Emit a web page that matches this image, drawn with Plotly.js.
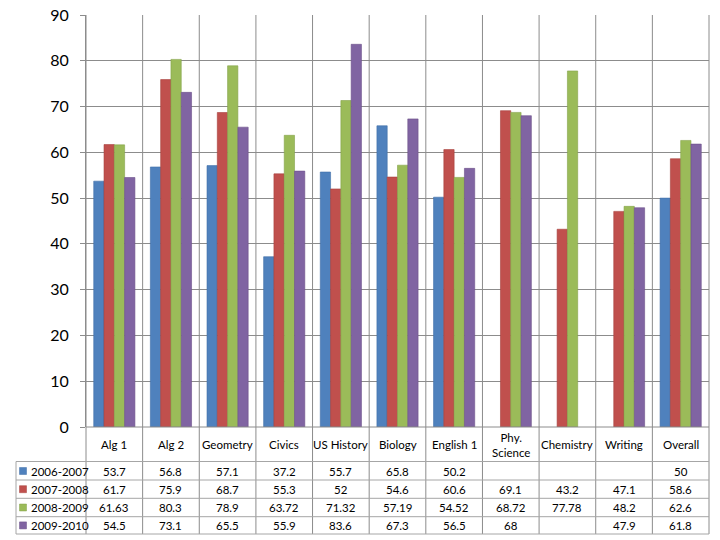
<!DOCTYPE html>
<html>
<head>
<meta charset="utf-8">
<script src="https://cdn.plot.ly/plotly-3.0.1.min.js"></script>
<style>html,body{margin:0;padding:0;background:#fff;}#chart{width:720px;height:540px;}</style>
</head>
<body>
<div id="chart"></div>
<script>
const categories = ["Alg 1", "Alg 2", "Geometry", "Civics", "US History", "Biology", "English 1", "Phy.<br>Science", "Chemistry", "Writing", "Overall"];
const seriesNames = ["2006-2007", "2007-2008", "2008-2009", "2009-2010"];
const s2006 = [53.7, 56.8, 57.1, 37.2, 55.7, 65.8, 50.2, null, null, null, 50];
const s2007 = [61.7, 75.9, 68.7, 55.3, 52, 54.6, 60.6, 69.1, 43.2, 47.1, 58.6];
const s2008 = [61.63, 80.3, 78.9, 63.72, 71.32, 57.19, 54.52, 68.72, 77.78, 48.2, 62.6];
const s2009 = [54.5, 73.1, 65.5, 55.9, 83.6, 67.3, 56.5, 68, null, 47.9, 61.8];
const yTicks = [0, 10, 20, 30, 40, 50, 60, 70, 80, 90];
const colors = ["#4F81BD", "#C0504D", "#9BBB59", "#8064A2"];
const lineColors = ["#3f6fa8", "#a6403d", "#84a34a", "#6b5189"];

const allSeries = [s2006, s2007, s2008, s2009];
const W = 720, H = 540;
const L = 86, R = 709, T = 15, B = 427;
const ph = B - T, pw = R - L;
const py = p => (B - p) / ph;            // pixel y -> paper y
const px = p => (p - L) / pw;            // pixel x -> paper x

const traces = allSeries.map((s, i) => ({
  type: "bar",
  name: seriesNames[i],
  x: categories,
  y: s,
  marker: {color: colors[i], line: {color: lineColors[i], width: 0.6}},
  hoverinfo: "x+y"
}));

const shapes = [];
const annotations = [];
const n = categories.length;
const gridCol = "#8c8c8c";
const tabCol = "#a6a6a6";
const rowLines = [B, 461.5, 480, 498.3, 516.7, 534];

// vertical lines: category boundaries through plot and table
for (let i = 0; i <= n; i++) {
  const xp = i / n;
  shapes.push({type: "line", xref: "paper", yref: "paper", x0: xp, x1: xp, y0: py(534), y1: 1,
    line: {color: gridCol, width: 1}});
}
// left border of row labels column
shapes.push({type: "line", xref: "paper", yref: "paper", x0: px(16), x1: px(16), y0: py(534), y1: py(461.5),
  line: {color: tabCol, width: 1}});
// horizontal table lines
rowLines.forEach((r, k) => {
  shapes.push({type: "line", xref: "paper", yref: "paper", x0: k === 0 ? 0 : px(16), x1: 1, y0: py(r), y1: py(r),
    line: {color: k === 0 ? gridCol : tabCol, width: 1}});
});

const font = {family: "Lato, 'Open Sans', sans-serif", size: 11.5, color: "#000"};
// header row
categories.forEach((c, i) => {
  annotations.push({xref: "paper", yref: "paper", x: (i + 0.5) / n, y: py(444.5), text: c, showarrow: false,
    font: font, xanchor: "center", yanchor: "middle"});
});
// data rows
const rowCenters = [471, 489.2, 507.5, 525.4];
allSeries.forEach((s, r) => {
  // legend key square
  shapes.push({type: "rect", xref: "paper", yref: "paper", x0: px(19.5), x1: px(26.5),
    y0: py(rowCenters[r] + 3.5), y1: py(rowCenters[r] - 3.5),
    fillcolor: colors[r], line: {color: lineColors[r], width: 0.5}});
  annotations.push({xref: "paper", yref: "paper", x: px(29), y: py(rowCenters[r]), text: seriesNames[r],
    showarrow: false, font: font, xanchor: "left", yanchor: "middle"});
  s.forEach((v, i) => {
    if (v === null) return;
    annotations.push({xref: "paper", yref: "paper", x: (i + 0.5) / n, y: py(rowCenters[r]), text: String(v),
      showarrow: false, font: font, xanchor: "center", yanchor: "middle"});
  });
});

const layout = {
  width: W, height: H,
  margin: {l: L, r: W - R, t: T, b: H - B, pad: 0},
  paper_bgcolor: "#fff", plot_bgcolor: "#fff",
  barmode: "group", bargap: 0.273, bargroupgap: 0,
  showlegend: false,
  font: {family: "Lato, 'Open Sans', sans-serif", color: "#000"},
  xaxis: {type: "category", showticklabels: false, showgrid: false, zeroline: false, showline: false, ticks: ""},
  yaxis: {range: [0, 90], tickvals: yTicks, ticktext: yTicks.map(String), showgrid: true, gridcolor: gridCol, gridwidth: 1,
    zeroline: false, showline: true, linecolor: gridCol, linewidth: 1, ticks: "outside", ticklen: 5, tickcolor: gridCol,
    tickfont: {family: "Lato, 'Open Sans', sans-serif", size: 16, color: "#000"}, ticklabelstandoff: 8},
  shapes: shapes,
  annotations: annotations
};

Plotly.newPlot("chart", traces, layout, {displayModeBar: false, staticPlot: true});
</script>
</body>
</html>
